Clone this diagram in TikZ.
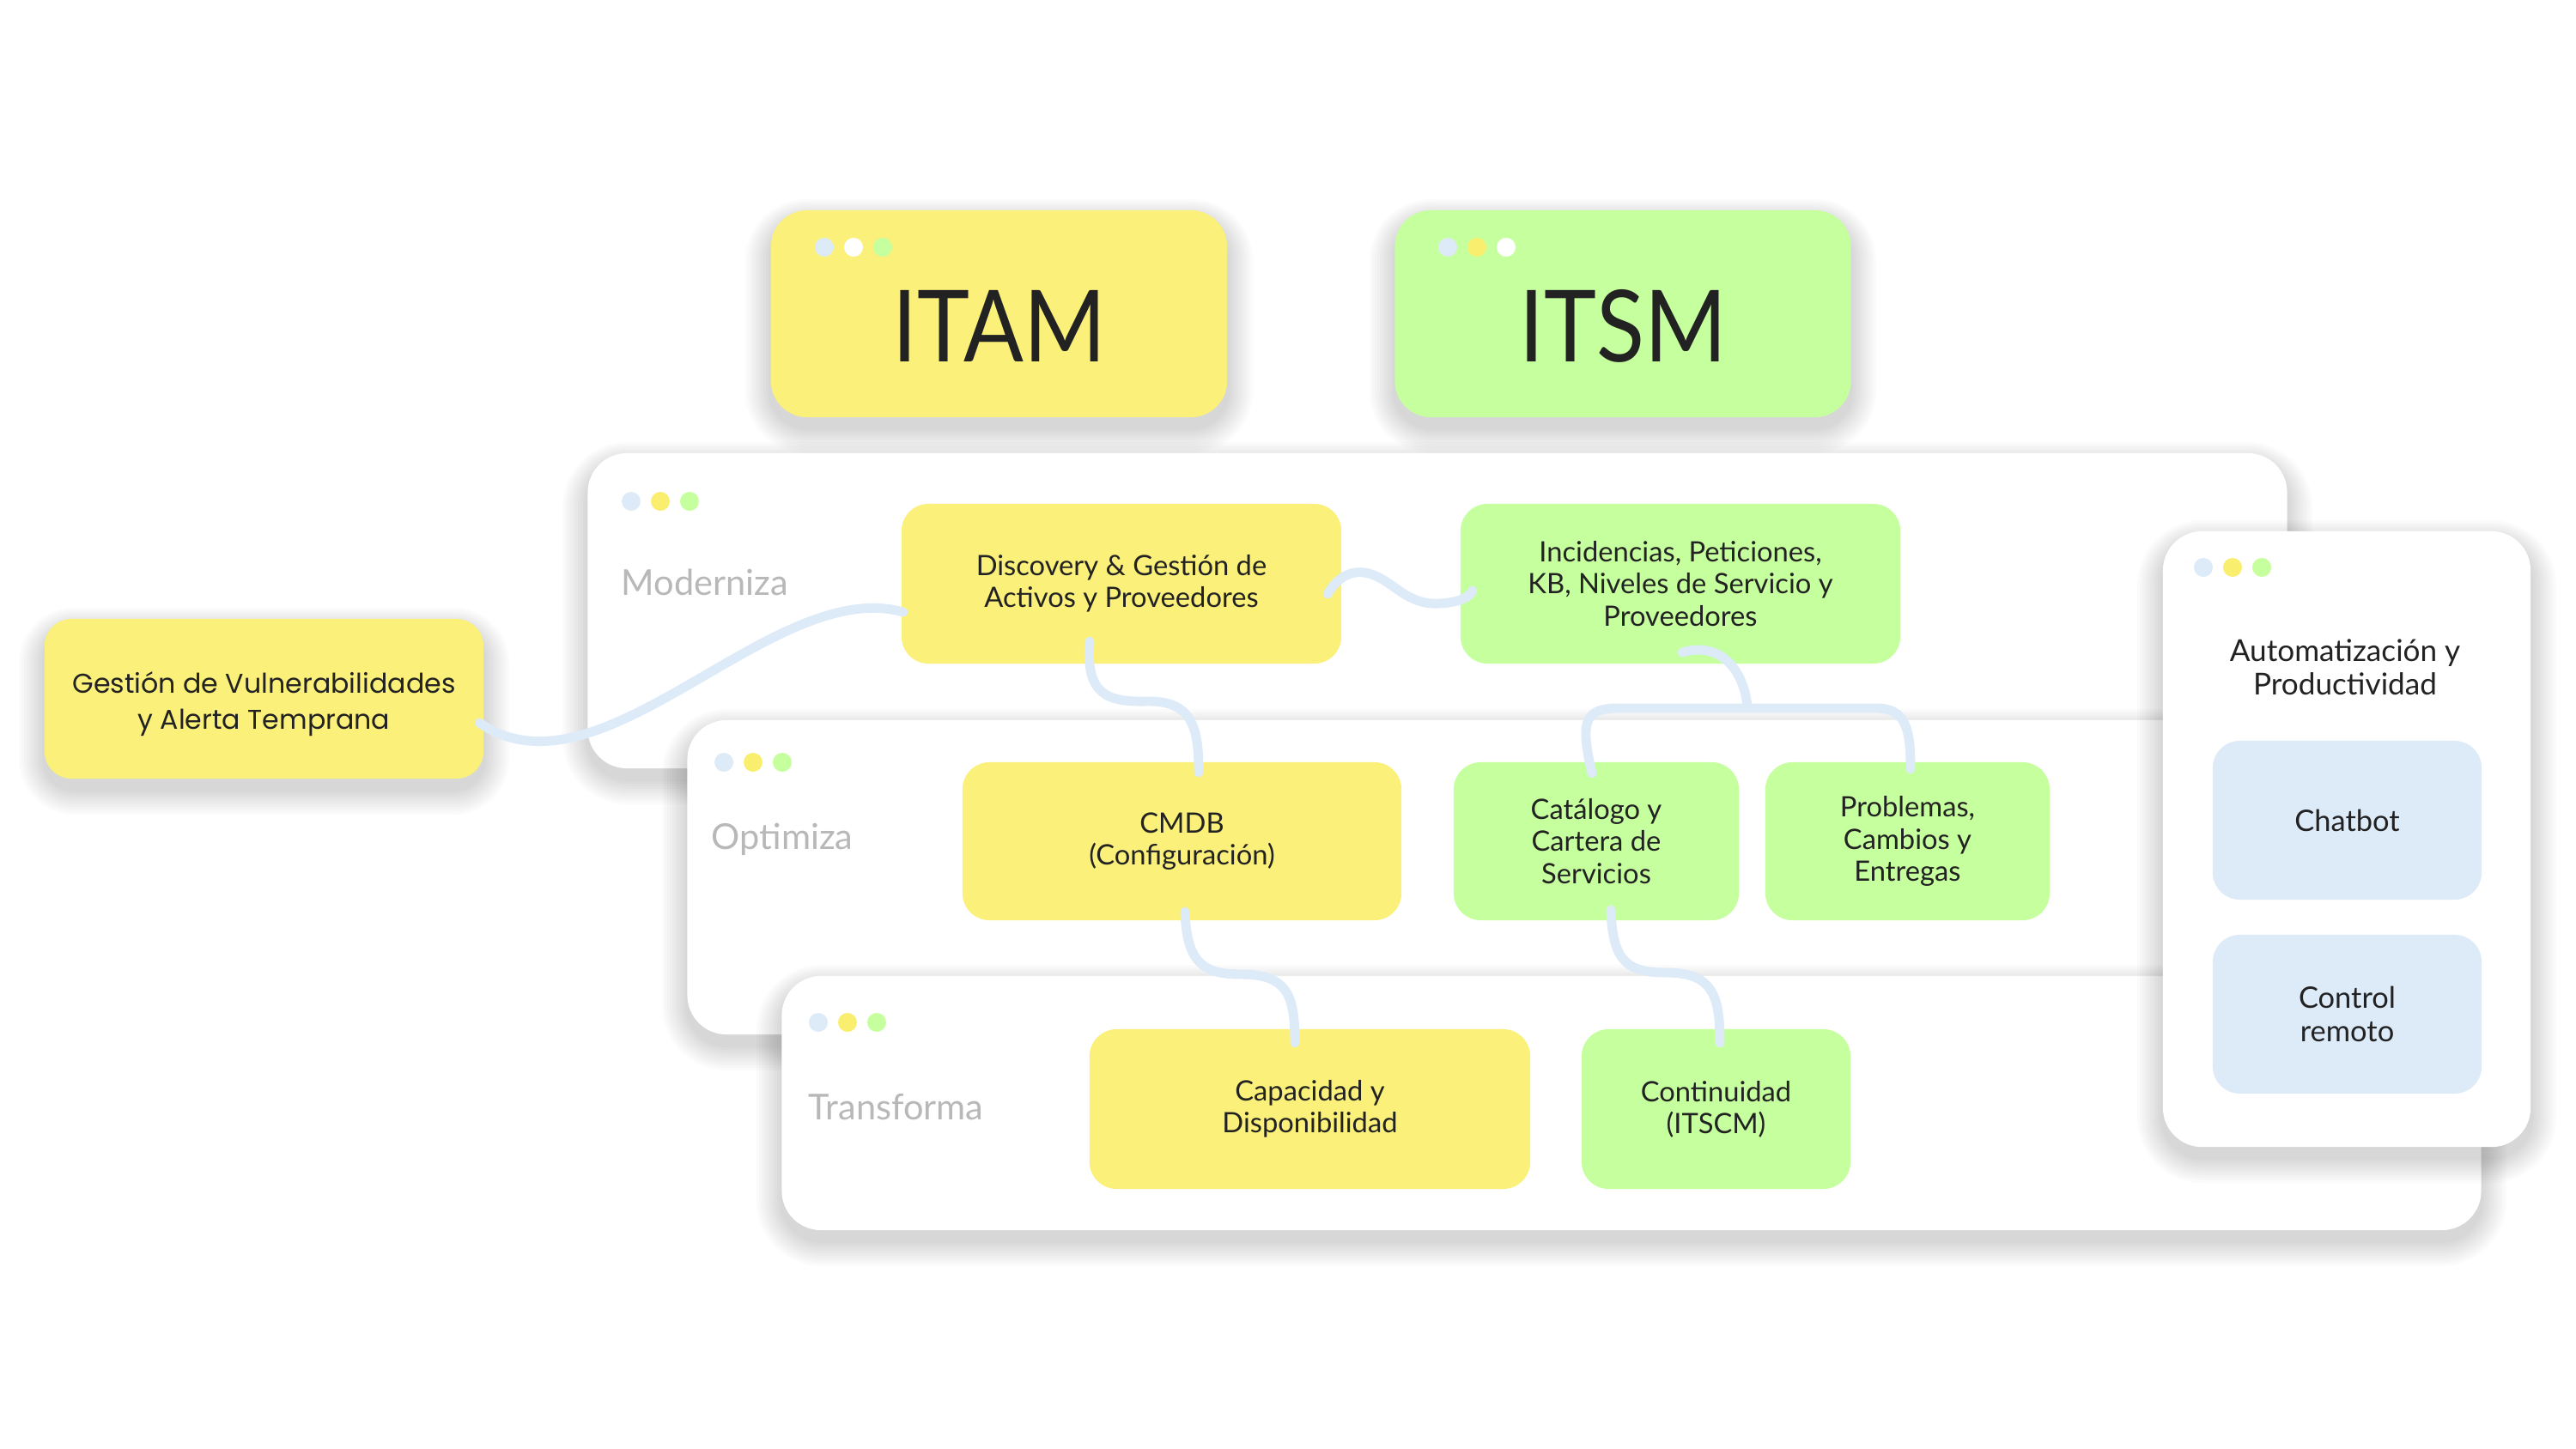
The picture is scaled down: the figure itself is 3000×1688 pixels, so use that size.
\documentclass[tikz,border=0pt]{standalone}
\usepackage{fontspec}
\usepackage{graphicx}
\setmainfont{Lato}
\newfontfamily\popfont{Poppins}
\usetikzlibrary{calc}
\definecolor{cyel}{HTML}{FAF07A}
\definecolor{cgrn}{HTML}{C6FF9E}
\definecolor{cblu}{HTML}{DDEBF9}
\definecolor{dyel}{HTML}{FAEE6E}
\definecolor{ctxt}{HTML}{222222}
\definecolor{cgray}{HTML}{B8B8B8}
\tikzset{
  card/.style={fill=white, rounded corners=13pt, inner sep=0pt, outer sep=0pt},
  titlebox/.style={rounded corners=12pt, inner sep=0pt, outer sep=0pt, minimum width=5.31cm, minimum height=2.41cm},
  itembox/.style={rounded corners=9pt, inner sep=0pt, outer sep=0pt, align=center, text=ctxt, font=\fontsize{9.3}{10.6}\selectfont},
  ybox/.style={itembox, fill=cyel},
  gbox/.style={itembox, fill=cgrn},
  bbox/.style={itembox, fill=cblu, font=\fontsize{9.8}{11.3}\selectfont},
  titletext/.style={text=ctxt, font=\fontsize{33}{36}\selectfont, inner sep=0pt},
  lvl/.style={text=cgray, font=\fontsize{11.8}{13}\selectfont, anchor=west, inner sep=0pt},
  conn/.style={draw=cblu, line width=3.1pt, line cap=round},
  shlayer/.style={fill=black, opacity=0.017},
}
% soft shadow: x1 y1 x2 y2 radius (px)
\newcommand\sshadow[5]{%
  \foreach \i in {1,...,10}{%
    \pgfmathsetmacro\rr{(#5+\i*3)*0.2845}%
    \fill[shlayer, rounded corners=\rr pt] ({#1-\i*3},{#2+12-\i*2.5}) rectangle ({#3+\i*3},{#4+12+\i*3});
  }}
\newcommand\mydots[5]{%
  \fill[#3] (#1,#2) circle[radius=0.11cm];
  \fill[#4] ({#1+34},#2) circle[radius=0.11cm];
  \fill[#5] ({#1+68},#2) circle[radius=0.11cm];}
\begin{document}
\begin{tikzpicture}[x=0.01cm,y=-0.01cm]
\useasboundingbox (0,0) rectangle (3000,1688);
\fill[white] (0,0) rectangle (3000,1688);

% title cards
\sshadow{898}{245}{1429}{486}{42}
\sshadow{1625}{245}{2155}{486}{42}
\node[titlebox, fill=cyel] (itam) at (1163.5,365.5) {};
\node[titlebox, fill=cgrn] (itsm) at (1890,365.5) {};
\mydots{960}{288}{cblu}{white}{cgrn}
\mydots{1686}{288}{cblu}{dyel}{white}
\node[titletext] (itamt) at (1164,380) {\scalebox{0.89}[1]{ITAM}};
\node[titletext] (itsmt) at (1890,380) {\scalebox{0.89}[1]{ITSM}};

% panels
\sshadow{685}{528}{2663}{895}{46}
\node[card, minimum width=19.78cm, minimum height=3.67cm] (pmod) at (1674,711.5) {};
\mydots{735}{584}{cblu}{dyel}{cgrn}
\node[lvl] (lmod) at (723,678) {Moderniza};
\sshadow{801}{839}{2780}{1205}{46}
\node[card, minimum width=19.79cm, minimum height=3.66cm] (popt) at (1790.5,1022) {};
\mydots{843}{888}{cblu}{dyel}{cgrn}
\node[lvl] (lopt) at (828,978) {Optimiza};
\sshadow{911}{1137}{2889}{1433}{46}
\node[card, minimum width=19.78cm, minimum height=2.96cm] (ptra) at (1900,1285) {};
\mydots{953}{1191}{cblu}{dyel}{cgrn}
\node[lvl] (ltra) at (941,1290) {Transforma};

% right panel
\sshadow{2519}{619}{2947}{1336}{46}
\node[card, minimum width=4.28cm, minimum height=7.17cm] (prig) at (2733,977.5) {};
\mydots{2566}{661}{cblu}{dyel}{cgrn}
\node[text=ctxt, align=center, font=\fontsize{10}{11}\selectfont, inner sep=0pt] (auto) at (2731,777) {Automatización y\\Productividad};
\node[bbox, minimum width=3.13cm, minimum height=1.85cm] (chat) at (2733.5,955.5) {Chatbot};
\node[bbox, minimum width=3.13cm, minimum height=1.85cm] (ctrl) at (2733.5,1181.5) {Control\\remoto};

% left card
\sshadow{52}{721}{563}{907}{35}
\node[ybox, minimum width=5.11cm, minimum height=1.86cm] (gest) at (307.5,814) {};
\node[align=center, text=ctxt, inner sep=0pt, font=\popfont\fontsize{9}{11.9}\selectfont] (gestt) at (307.5,820) {Gestión de Vulnerabilidades\\y Alerta Temprana};

% items
\node[ybox, minimum width=5.12cm, minimum height=1.86cm] (disc) at (1306,680) {Discovery \& Gestión de\\Activos y Proveedores};
\node[gbox, minimum width=5.12cm, minimum height=1.86cm] (inc) at (1957,680) {Incidencias, Peticiones,\\KB, Niveles de Servicio y\\Proveedores};
\node[ybox, minimum width=5.11cm, minimum height=1.84cm] (cmdb) at (1376.5,980) {CMDB\\(Configuración)};
\node[gbox, minimum width=3.32cm, minimum height=1.84cm] (cat) at (1859,980) {Catálogo y\\Cartera de\\Servicios};
\node[gbox, minimum width=3.31cm, minimum height=1.84cm] (prob) at (2221.5,980) {Problemas,\\Cambios y\\Entregas};
\node[ybox, minimum width=5.13cm, minimum height=1.86cm] (cap) at (1525.5,1292) {Capacidad y\\Disponibilidad};
\node[gbox, minimum width=3.13cm, minimum height=1.86cm] (cont) at (1998.5,1292) {Continuidad\\(ITSCM)};

% connectors
\draw[conn] ($(gest.east)+(-5,28)$) .. controls (700,940) and (900,670) .. ($(disc.west)+(2,33)$);
\draw[conn] ($(disc.east)+(-16,12)$) .. controls (1560,668) and (1580,662) .. (1600,670)
   .. controls (1625,680) and (1640,705) .. (1676,703)
   .. controls (1700,702) and (1712,695) .. ($(inc.west)+(14,8)$);
\draw[conn] ($(disc.south)+(-37,-26)$) .. controls (1264,810) and (1290,818) .. (1336,817)
   .. controls (1390,816) and (1396,850) .. ($(cmdb.north)+(19.5,12)$);
\coordinate (junc) at (2035,825);
\draw[conn] ($(inc.south)+(2,-13)$) .. controls (2010,745) and (2033,790) .. (junc);
\draw[conn] ($(cat.north)+(-5,13)$) .. controls (1840,840) and (1845,825) .. (1885,825) -- (2185,825)
   .. controls (2220,825) and (2225,850) .. ($(prob.north)+(3.5,8)$);
\draw[conn] ($(cmdb.south)+(3.5,-10)$) .. controls (1382,1120) and (1400,1135) .. (1445,1135)
   .. controls (1500,1135) and (1508,1160) .. ($(cap.north)+(-17.5,16)$);
\draw[conn] ($(cat.south)+(17,-12)$) .. controls (1878,1120) and (1895,1133) .. (1940,1133)
   .. controls (1995,1133) and (2003,1160) .. ($(cont.north)+(4.5,16)$);
\end{tikzpicture}
\end{document}
